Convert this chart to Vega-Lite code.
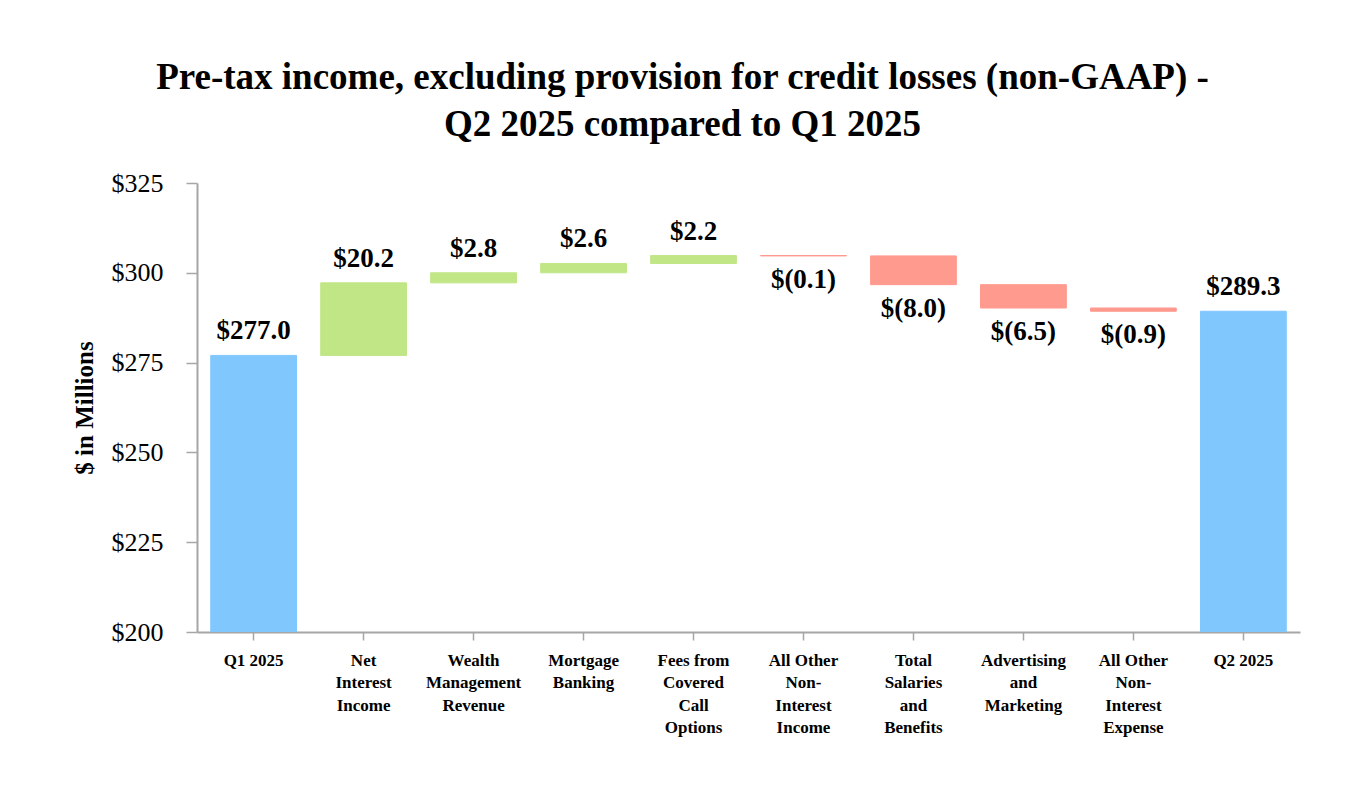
{
  "$schema": "https://vega.github.io/schema/vega-lite/v6.json",
  "autosize": "none",
  "width": 1103,
  "height": 449,
  "padding": {"left": 197, "top": 183, "right": 64, "bottom": 168},
  "background": "white",
  "title": {
    "text": ["Pre-tax income, excluding provision for credit losses (non-GAAP) -", "Q2 2025 compared to Q1 2025"],
    "font": "Liberation Serif",
    "fontSize": 37,
    "fontWeight": "bold",
    "color": "black",
    "lineHeight": 47,
    "anchor": "middle",
    "dx": -66,
    "offset": 26
  },
  "data": {
    "values": [
      {"cat": "Q1 2025", "lo": 0, "hi": 277.0, "kind": "total", "label": "$277.0"},
      {"cat": "Net|Interest|Income", "lo": 277.0, "hi": 297.2, "kind": "up", "label": "$20.2"},
      {"cat": "Wealth|Management|Revenue", "lo": 297.2, "hi": 300.0, "kind": "up", "label": "$2.8"},
      {"cat": "Mortgage|Banking", "lo": 300.0, "hi": 302.6, "kind": "up", "label": "$2.6"},
      {"cat": "Fees from|Covered|Call|Options", "lo": 302.6, "hi": 304.8, "kind": "up", "label": "$2.2"},
      {"cat": "All Other|Non-|Interest|Income", "lo": 304.7, "hi": 304.8, "kind": "down", "label": "$(0.1)"},
      {"cat": "Total|Salaries|and|Benefits", "lo": 296.7, "hi": 304.7, "kind": "down", "label": "$(8.0)"},
      {"cat": "Advertising|and|Marketing", "lo": 290.2, "hi": 296.7, "kind": "down", "label": "$(6.5)"},
      {"cat": "All Other|Non-|Interest|Expense", "lo": 289.3, "hi": 290.2, "kind": "down", "label": "$(0.9)"},
      {"cat": "Q2 2025", "lo": 0, "hi": 289.3, "kind": "total", "label": "$289.3"}
    ]
  },
  "encoding": {
    "x": {
      "field": "cat",
      "type": "nominal",
      "sort": null,
      "title": null,
      "scale": {"paddingInner": 0.22, "paddingOuter": 0.125},
      "axis": {
        "labelExpr": "split(datum.value, '|')",
        "labelAngle": 0,
        "labelFont": "Liberation Serif",
        "labelFontSize": 17,
        "labelFontWeight": "bold",
        "labelColor": "black",
        "labelLineHeight": 22.5,
        "labelPadding": 12,
        "tickSize": 8,
        "tickColor": "#a6a6a6",
        "domainColor": "#a6a6a6",
        "domainWidth": 2,
        "tickWidth": 1.5,
        "grid": false
      }
    }
  },
  "layer": [
    {
      "mark": {"type": "bar", "clip": true, "strokeWidth": 1},
      "encoding": {
        "y": {
          "field": "hi",
          "type": "quantitative",
          "scale": {"domain": [200, 325], "zero": false, "nice": false},
          "title": "$ in Millions",
          "axis": {
            "values": [200, 225, 250, 275, 300, 325],
            "labelExpr": "'$' + datum.value",
            "labelFont": "Liberation Serif",
            "labelFontSize": 26,
            "labelColor": "black",
            "labelPadding": 23,
            "tickSize": 11,
            "tickColor": "#a6a6a6",
            "tickWidth": 1.5,
            "domainColor": "#a6a6a6",
            "domainWidth": 2,
            "grid": false,
            "titleFont": "Liberation Serif",
            "titleFontSize": 25,
            "titleFontWeight": "bold",
            "titleColor": "black",
            "titlePadding": 14
          }
        },
        "y2": {"field": "lo"},
        "color": {
          "field": "kind",
          "type": "nominal",
          "scale": {"domain": ["total", "up", "down"], "range": ["#80c7fd", "#c0e686", "#ff9a8f"]},
          "legend": null
        },
        "stroke": {
          "field": "kind",
          "type": "nominal",
          "scale": {"domain": ["total", "up", "down"], "range": ["#80c7fd", "#c0e686", "#ff9a8f"]},
          "legend": null
        }
      }
    },
    {
      "transform": [{"filter": "datum.kind != 'down'"}],
      "mark": {"type": "text", "baseline": "alphabetic", "dy": -16, "font": "Liberation Serif", "fontSize": 27, "fontWeight": "bold", "color": "black"},
      "encoding": {
        "y": {"field": "hi", "type": "quantitative"},
        "text": {"field": "label"}
      }
    },
    {
      "transform": [{"filter": "datum.kind == 'down'"}],
      "mark": {"type": "text", "baseline": "top", "dy": 11, "font": "Liberation Serif", "fontSize": 27, "fontWeight": "bold", "color": "black"},
      "encoding": {
        "y": {"field": "lo", "type": "quantitative"},
        "text": {"field": "label"}
      }
    }
  ],
  "config": {
    "view": {"stroke": null}
  }
}
